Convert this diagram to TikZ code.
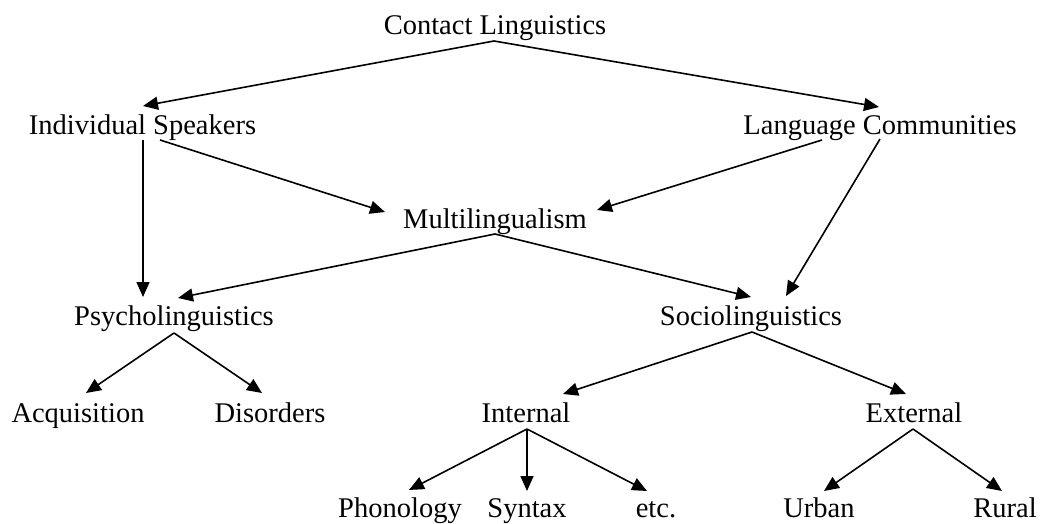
\documentclass[tikz,border=0pt]{standalone}
\usepackage{fontspec}
\setmainfont{Liberation Serif}
\usetikzlibrary{arrows.meta}
\begin{document}
\begin{tikzpicture}[x=1pt,y=-1pt,
  lbl/.style={anchor=base, inner sep=0pt, font=\fontsize{28.5}{34}\selectfont},
  arr/.style={line width=1.6pt, -{Triangle[length=15pt,width=13pt]}}]
\useasboundingbox (0,0) rectangle (1043,524);
\node[lbl] (cl) at (495,35) {Contact Linguistics};
\node[lbl] (is) at (142.5,134) {Individual Speakers};
\node[lbl] (lc) at (880,134) {Language Communities};
\node[lbl] (ml) at (495,228) {Multilingualism};
\node[lbl] (ps) at (174,325) {Psycholinguistics};
\node[lbl] (so) at (751,325) {Sociolinguistics};
\node[lbl] (aq) at (78,422) {Acquisition};
\node[lbl] (di) at (270,422) {Disorders};
\node[lbl] (in) at (526,422) {Internal};
\node[lbl] (ex) at (914,422) {External};
\node[lbl] (ph) at (400,517) {Phonology};
\node[lbl] (sy) at (527,517) {Syntax};
\node[lbl] (et) at (656,517) {etc.};
\node[lbl] (ur) at (819,517) {Urban};
\node[lbl] (ru) at (1005,517) {Rural};

\draw[arr] ([shift={(-1,6)}]cl.base) -- ([shift={(0.5,-28)}]is.base);
\draw[arr] ([shift={(-1,6)}]cl.base) -- ([shift={(-1,-27)}]lc.base);
\draw[arr] ([shift={(0.5,6)}]is.base) -- ([shift={(-31,-28)}]ps.base);
\draw[arr] ([shift={(17.5,6)}]is.base) -- ([shift={(-110,-16)}]ml.base);
\draw[arr] ([shift={(-58,6)}]lc.base) -- ([shift={(102,-18)}]ml.base);
\draw[arr] ([shift={(0,5)}]lc.base) -- ([shift={(35,-29)}]so.base);
\draw[arr] ([shift={(0,6)}]ml.base) -- ([shift={(4,-27)}]ps.base);
\draw[arr] ([shift={(0,6)}]ml.base) -- ([shift={(0,-28)}]so.base);
\draw[arr] ([shift={(0,8)}]ps.base) -- ([shift={(8,-29)}]aq.base);
\draw[arr] ([shift={(0,8)}]ps.base) -- ([shift={(-8,-29)}]di.base);
\draw[arr] ([shift={(1,7)}]so.base) -- ([shift={(37,-28)}]in.base);
\draw[arr] ([shift={(1,7)}]so.base) -- ([shift={(-8,-28)}]ex.base);
\draw[arr] ([shift={(1,7)}]in.base) -- ([shift={(9,-27)}]ph.base);
\draw[arr] ([shift={(1,7)}]in.base) -- ([shift={(0,-26)}]sy.base);
\draw[arr] ([shift={(1,7)}]in.base) -- ([shift={(-9,-26)}]et.base);
\draw[arr] ([shift={(-1,7)}]ex.base) -- ([shift={(5,-26)}]ur.base);
\draw[arr] ([shift={(-1,7)}]ex.base) -- ([shift={(-3,-26)}]ru.base);
\end{tikzpicture}
\end{document}
